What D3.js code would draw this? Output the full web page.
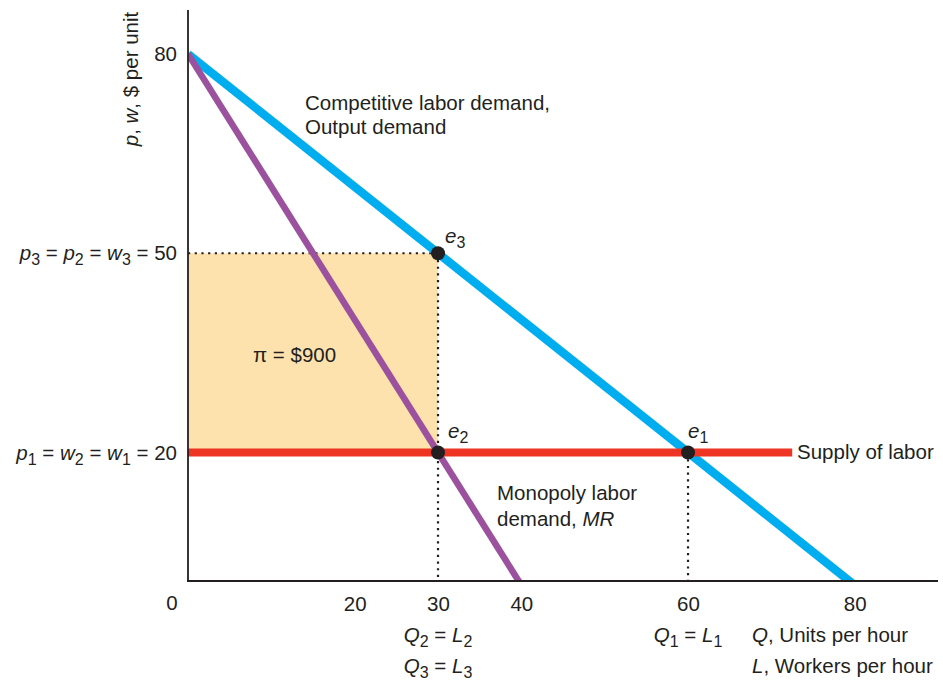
<!DOCTYPE html>
<html>
<head>
<meta charset="utf-8">
<script src="https://cdn.jsdelivr.net/npm/d3@7"></script>
<style>
  html, body { margin: 0; padding: 0; background: #fff; }
  svg { display: block; font-family: "Liberation Sans", Arial, Helvetica, sans-serif; }
</style>
</head>
<body>
<svg id="chart" width="943" height="684"></svg>
<script>
// ---------- data ----------
const xTickValues = [20, 30, 40, 60, 80];
const xZeroLabel = "0";
const yTickValues = [80, 50, 20];
const yTickLabels = {
  80: [{t: "80"}],
  50: [{t: "p", i: true}, {t: "3", sub: true}, {t: " = "}, {t: "p", i: true}, {t: "2", sub: true}, {t: " = "}, {t: "w", i: true}, {t: "3", sub: true}, {t: " = 50"}],
  20: [{t: "p", i: true}, {t: "1", sub: true}, {t: " = "}, {t: "w", i: true}, {t: "2", sub: true}, {t: " = "}, {t: "w", i: true}, {t: "1", sub: true}, {t: " = 20"}]
};
const competitiveDemand = [[0, 80], [80, 0]];
const monopolyMR = [[0, 80], [40, 0]];
const laborSupply = [[0, 20], [72.5, 20]];
const profitArea = {q0: 0, q1: 30, p0: 20, p1: 50};
const equilibria = [
  {name: "e1", sub: "1", q: 60, p: 20},
  {name: "e2", sub: "2", q: 30, p: 20},
  {name: "e3", sub: "3", q: 30, p: 50}
];
const dottedGuides = [
  {from: [0, 50], to: [30, 50]},
  {from: [30, 50], to: [30, 0]},
  {from: [60, 20], to: [60, 0]}
];

// ---------- layout ----------
const W = 943, H = 684;
const axisY = 581, axisX = 188, yAxisTop = 10, xAxisEnd = 938;
const FS = 20.5, SUB = 16;
const ink = "#231f20";
const colors = {blue: "#00aeef", purple: "#9b519d", red: "#ee3524", fill: "#fde2ae"};

const x = d3.scaleLinear().domain([0, 80]).range([188, 854.7]);
const y = d3.scaleLinear().domain([0, 80]).range([585.3, 54]);

const svg = d3.select("#chart");

svg.append("defs").append("clipPath").attr("id", "plotclip")
  .append("rect").attr("x", axisX).attr("y", 0).attr("width", W - axisX).attr("height", axisY);

function rich(sel, parts) {
  parts.forEach(p => {
    const ts = sel.append("tspan").text(p.t);
    if (p.i) ts.attr("font-style", "italic");
    if (p.sub) ts.attr("font-size", SUB).attr("dy", 5);
    else if (p._after) ts.attr("dy", -5);
  });
}
function prep(parts) {
  const out = [];
  let prevSub = false;
  parts.forEach(p => {
    const q = Object.assign({}, p);
    if (!q.sub && prevSub) q._after = true;
    prevSub = !!q.sub;
    out.push(q);
  });
  return out;
}

// profit area
svg.append("rect")
  .attr("x", x(profitArea.q0)).attr("y", y(profitArea.p1))
  .attr("width", x(profitArea.q1) - x(profitArea.q0))
  .attr("height", y(profitArea.p0) - y(profitArea.p1))
  .attr("fill", colors.fill);

// dotted guides
svg.append("g").attr("clip-path", "url(#plotclip)")
  .selectAll("line").data(dottedGuides).join("line")
  .attr("x1", d => x(d.from[0])).attr("y1", d => y(d.from[1]))
  .attr("x2", d => x(d.to[0])).attr("y2", d => y(d.to[1]))
  .attr("stroke", ink).attr("stroke-width", 2.2)
  .attr("stroke-dasharray", "2.2 4.5");

const line = d3.line().x(d => x(d[0])).y(d => y(d[1]));
const curves = svg.append("g").attr("clip-path", "url(#plotclip)");
curves.append("path").datum(competitiveDemand).attr("d", line)
  .attr("stroke", colors.blue).attr("stroke-width", 8.5).attr("fill", "none");
curves.append("path").datum(monopolyMR).attr("d", line)
  .attr("stroke", colors.purple).attr("stroke-width", 6.5).attr("fill", "none");
curves.append("path").datum(laborSupply).attr("d", line)
  .attr("stroke", colors.red).attr("stroke-width", 8).attr("fill", "none");

// axes lines
svg.append("line").attr("x1", axisX).attr("x2", axisX).attr("y1", yAxisTop).attr("y2", axisY + 1)
  .attr("stroke", ink).attr("stroke-width", 1.8);
svg.append("line").attr("x1", axisX - 1).attr("x2", xAxisEnd).attr("y1", axisY).attr("y2", axisY)
  .attr("stroke", ink).attr("stroke-width", 1.8);

// x axis tick labels via d3 axis
const xAxis = d3.axisBottom(x).tickValues(xTickValues).tickSize(0).tickPadding(15).tickFormat(d3.format("d"));
const gx = svg.append("g").attr("transform", `translate(0,${axisY})`).call(xAxis);
gx.select(".domain").remove();
gx.selectAll("text").attr("font-size", FS).attr("fill", ink).attr("font-family", null);
svg.append("text").attr("x", x(0) - 16).attr("y", 610).attr("text-anchor", "middle")
  .attr("font-size", FS).attr("fill", ink).text(xZeroLabel);

// y axis tick labels via d3 axis
const yAxis = d3.axisLeft(y).tickValues(yTickValues).tickSize(0).tickPadding(11).tickFormat(() => "");
const gy = svg.append("g").attr("transform", `translate(${axisX},0)`).call(yAxis);
gy.select(".domain").remove();
gy.selectAll(".tick text").each(function(d) {
  const t = d3.select(this).attr("font-size", FS).attr("fill", ink).attr("font-family", null);
  rich(t, prep(yTickLabels[d]));
});

// y-axis title
const yt = svg.append("text").attr("transform", "translate(138,79) rotate(-90)")
  .attr("text-anchor", "middle").attr("font-size", FS).attr("fill", ink);
rich(yt, prep([{t: "p", i: true}, {t: ", "}, {t: "w", i: true}, {t: ", $ per unit"}]));

// equilibrium dots
svg.selectAll("circle.eq").data(equilibria).join("circle").attr("class", "eq")
  .attr("cx", d => x(d.q)).attr("cy", d => y(d.p)).attr("r", 7).attr("fill", ink);

const eqOffsets = {e1: [0, -14], e2: [10, -14], e3: [7, -10]};
equilibria.forEach(d => {
  const o = eqOffsets[d.name];
  const t = svg.append("text").attr("x", x(d.q) + o[0]).attr("y", y(d.p) + o[1])
    .attr("font-size", FS).attr("fill", ink);
  rich(t, prep([{t: "e", i: true}, {t: d.sub, sub: true}]));
});

// annotations
function label(xp, yp, parts, anchor) {
  const t = svg.append("text").attr("x", xp).attr("y", yp).attr("font-size", FS).attr("fill", ink)
    .attr("text-anchor", anchor || "start");
  rich(t, prep(parts));
  return t;
}
label(305, 110, [{t: "Competitive labor demand,"}]);
label(305, 134, [{t: "Output demand"}]);
label(253, 362, [{t: "π = $900"}]);
label(497, 500, [{t: "Monopoly labor"}]);
label(497, 526, [{t: "demand, "}, {t: "MR", i: true}]);
label(797, 459, [{t: "Supply of labor"}]);

label(x(30), 642, [{t: "Q", i: true}, {t: "2", sub: true}, {t: " = "}, {t: "L", i: true}, {t: "2", sub: true}], "middle");
label(x(30), 673, [{t: "Q", i: true}, {t: "3", sub: true}, {t: " = "}, {t: "L", i: true}, {t: "3", sub: true}], "middle");
label(x(60), 642, [{t: "Q", i: true}, {t: "1", sub: true}, {t: " = "}, {t: "L", i: true}, {t: "1", sub: true}], "middle");
label(752, 642, [{t: "Q", i: true}, {t: ", Units per hour"}]);
label(752, 673, [{t: "L", i: true}, {t: ", Workers per hour"}]);
</script>
</body>
</html>
